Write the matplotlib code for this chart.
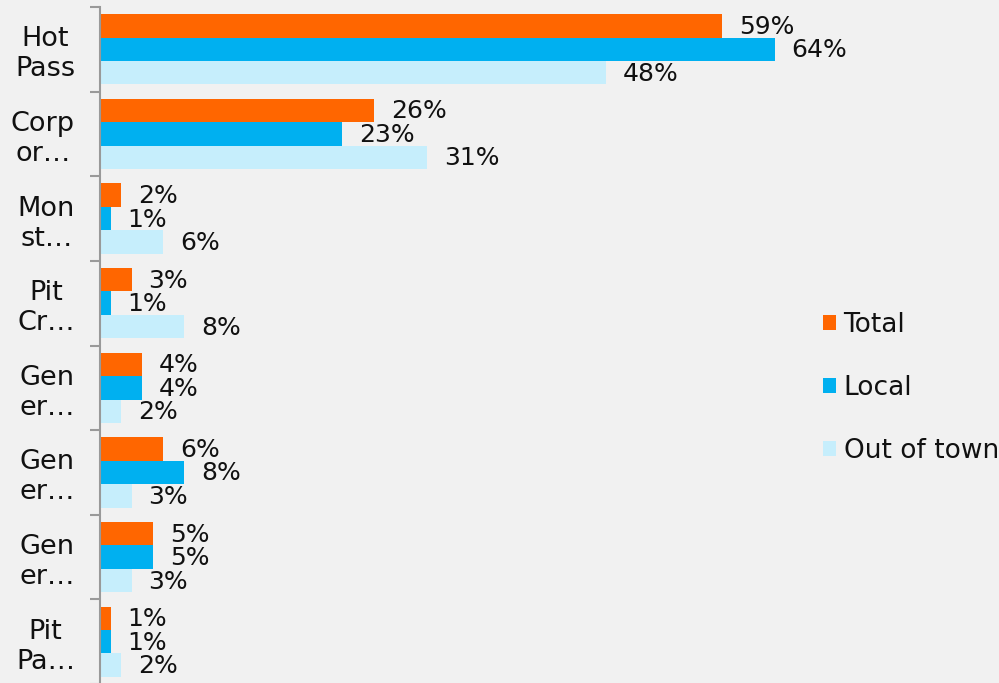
import matplotlib
matplotlib.use("Agg")
import matplotlib.pyplot as plt
import numpy as np
from matplotlib.patches import Patch

categories = ["Hot\nPass", "Corp\nor…", "Mon\nst…", "Pit\nCr…", "Gen\ner…", "Gen\ner…", "Gen\ner…", "Pit\nPa…"]
series_names = ["Total", "Local", "Out of town"]
total = [59, 26, 2, 3, 4, 6, 5, 1]
local = [64, 23, 1, 1, 4, 8, 5, 1]
out_of_town = [48, 31, 6, 8, 2, 3, 3, 2]
colors = ["#FF6600", "#00B0F0", "#C6EEFC"]

W, H = 999, 683
fig = plt.figure(figsize=(W / 100, H / 100), dpi=100)
bg = "#f1f1f1"
fig.patch.set_facecolor(bg)

left = 100 / W
top = 1 - 7 / H
bottom = -1 / H
right = 1.0
ax = fig.add_axes([left, bottom, right - left, top - bottom])
ax.set_facecolor(bg)

n = len(categories)
bar_h = 0.277
y = np.arange(n)
values = [total, local, out_of_town]
for i, (vals, c, name) in enumerate(zip(values, colors, series_names)):
    pos = y - bar_h + i * bar_h
    ax.barh(pos, vals, height=bar_h, color=c, label=name, zorder=2)
    for p, v in zip(pos, vals):
        ax.annotate(f"{v}%", (v, p), xytext=(17, -1), textcoords="offset pixels",
                    ha="left", va="center", fontsize=18, color="#111111",
                    family="DejaVu Sans")

ax.set_ylim(n - 0.5, -0.5)
ax.set_xlim(0, (W - 100) / 10.54)

ax.set_yticks(y)
ax.set_yticklabels(categories, fontsize=19.5, multialignment="center",
                   color="#111111", linespacing=1.2)
ax.set_yticks(np.arange(-0.5, n, 1.0), minor=True)
ax.tick_params(axis="y", which="major", length=0, pad=18)
ax.tick_params(axis="y", which="minor", length=7, width=1.5, color="#999999", direction="out")
ax.set_xticks([])
for s in ["top", "right", "bottom"]:
    ax.spines[s].set_visible(False)
ax.spines["left"].set_color("#999999")
ax.spines["left"].set_linewidth(1.5)

handles = [Patch(facecolor=c, edgecolor="none") for c in colors]
leg = fig.legend(handles, series_names, loc="upper left",
                 bbox_to_anchor=(823 / W, 1 - 312 / H), frameon=False,
                 fontsize=19, handlelength=0.5, handleheight=0.5,
                 handletextpad=0.28, labelspacing=1.4, borderpad=0, borderaxespad=0)
for t in leg.get_texts():
    t.set_color("#111111")

fig.savefig("out.png", dpi=100, facecolor=fig.get_facecolor())
